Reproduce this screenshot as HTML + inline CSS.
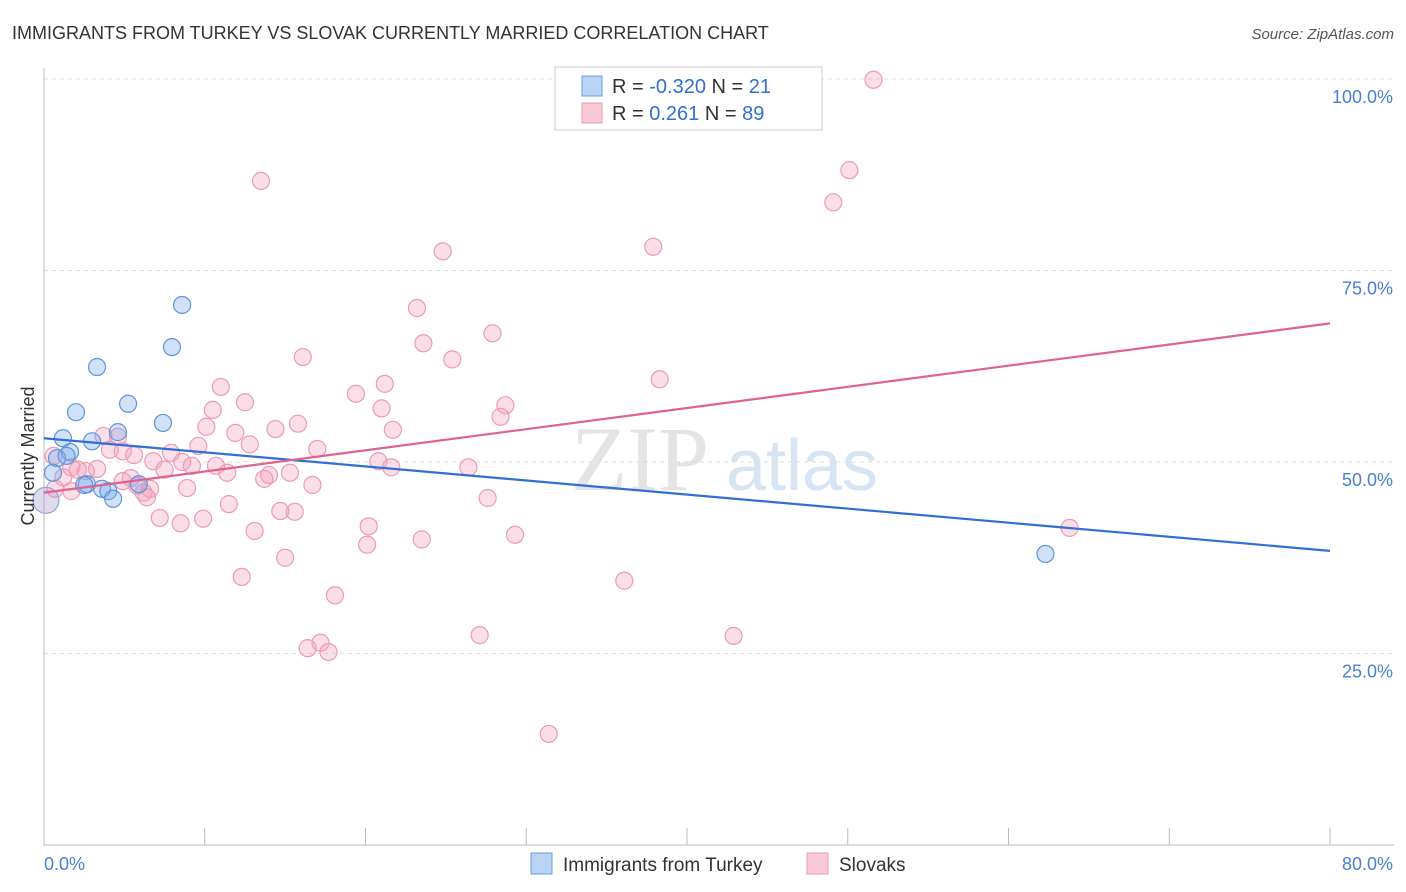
<!DOCTYPE html>
<html><head><meta charset="utf-8"><style>
body{margin:0;background:#fff;font-family:"Liberation Sans",sans-serif;}
svg{display:block}
</style></head><body>
<svg id="chart" width="1406" height="892">
<text x="12" y="39" font-size="18" fill="#333">IMMIGRANTS FROM TURKEY VS SLOVAK CURRENTLY MARRIED CORRELATION CHART</text>
<text x="1394" y="39" font-size="15" fill="#555" font-style="italic" text-anchor="end">Source: ZipAtlas.com</text>
<text x="640" y="490" font-size="92" fill="#e4e4e4" font-family="Liberation Serif" text-anchor="middle">ZIP</text>
<text x="802" y="490" font-size="72" fill="#d6e4f4" text-anchor="middle">atlas</text>
<g id="grid"></g><g id="axes"></g><g id="pts"></g><g id="lines"></g>
<text transform="translate(34,456) rotate(-90)" font-size="18" fill="#333" text-anchor="middle">Currently Married</text>
<g>
<rect x="555" y="67" width="267" height="63" fill="#fff" stroke="#ccc"/>
<rect x="582" y="76" width="20" height="20" fill="#b9d3f4" stroke="#6a9ee0"/>
<rect x="582" y="103" width="20" height="20" fill="#f9c9d8" stroke="#ec9ab5"/>
<text x="612" y="93" font-size="20" fill="#333">R = <tspan fill="#2f6fd6">-0.320</tspan>   N = <tspan fill="#2f6fd6"> 21</tspan></text>
<text x="612" y="120" font-size="20" fill="#333">R =   <tspan fill="#2f6fd6">0.261</tspan>   N = <tspan fill="#2f6fd6">89</tspan></text>
</g>
<g>
<rect x="531" y="853" width="21" height="21" fill="#b9d3f4" stroke="#6a9ee0"/>
<text x="563" y="871" font-size="19" fill="#333">Immigrants from Turkey</text>
<rect x="807" y="853" width="21" height="21" fill="#f9c9d8" stroke="#ec9ab5"/>
<text x="839" y="871" font-size="19" fill="#333">Slovaks</text>
</g>
</svg>
<script>
const blueX=[8.59,7.96,3.30,5.23,1.99,7.40,4.60,1.18,2.99,1.62,0.81,0.56,2.67,3.61,4.0,5.9,4.3,62.3,1.4,2.5];
const blueY=[70.5,65.0,62.4,57.6,56.5,55.1,53.9,53.1,52.7,51.3,50.5,48.6,47.1,46.5,46.2,47.1,45.2,38.0,50.8,47.0];
const pinkX=[51.6,50.1,49.1,13.5,24.8,37.9,23.2,27.9,23.6,25.4,16.1,38.3,11.0,21.2,19.4,12.5,10.5,21.0,28.7,28.4,15.8,14.4,10.1,21.7,11.9,4.6,3.7,12.8,9.6,17.0,7.9,4.1,4.9,5.6,0.6,6.8,8.6,20.8,9.2,10.7,26.4,21.6,1.7,3.3,7.5,2.1,2.6,11.4,15.3,14.0,1.2,5.4,13.7,4.9,16.7,5.8,6.6,8.9,0.7,1.7,6.2,6.4,27.6,11.5,14.7,15.6,7.2,9.9,8.5,20.2,63.8,13.1,29.3,23.5,20.1,15.0,12.3,36.1,18.1,27.1,42.9,17.2,16.4,17.7,31.4];
const pinkY=[99.9,88.1,83.9,86.7,77.5,78.1,70.1,66.8,65.5,63.4,63.7,60.8,59.8,60.2,58.9,57.8,56.8,57.0,57.4,55.9,55.0,54.3,54.6,54.2,53.8,53.3,53.4,52.3,52.1,51.7,51.2,51.6,51.4,50.9,50.8,50.1,50.0,50.1,49.5,49.5,49.3,49.3,49.3,49.1,49.0,49.0,48.8,48.6,48.6,48.3,48.0,47.9,47.8,47.5,47.0,46.9,46.5,46.6,46.5,46.2,46.0,45.4,45.3,44.5,43.6,43.5,42.7,42.6,42.0,41.6,41.4,41.0,40.5,39.9,39.2,37.5,35.0,34.5,32.6,27.4,27.3,26.4,25.7,25.2,14.5];
const blueTrend=[53.1,38.4];
const pinkTrend=[46.0,68.1];
const yTicks=[25,50,75,100];
const yTickLabels=["25.0%","50.0%","75.0%","100.0%"];
const xTicks=[0,10,20,30,40,50,60,70,80];
const NS="http://www.w3.org/2000/svg";
const sx=v=>44+v/80*1286, sy=v=>845-v/100*766;
function mk(tag,attrs,parent){const e=document.createElementNS(NS,tag);for(const k in attrs)e.setAttribute(k,attrs[k]);document.getElementById(parent).appendChild(e);return e;}
yTicks.forEach((t,i)=>{
 const l=mk('line',{x1:44,x2:1394,y1:sy(t),y2:sy(t),stroke:'#ddd','stroke-dasharray':'4,4'},'grid');
 
 
 const tx=mk('text',{x:1393,y:sy(t)+24,'font-size':18,fill:'#4a7fd4','text-anchor':'end'},'grid');
 tx.textContent=yTickLabels[i];
 
 
});
const ax=mk('line',{x1:44,x2:44,y1:68,y2:845,stroke:'#bbb'},'axes');


const bx=mk('line',{x1:44,x2:1394,y1:845,y2:845,stroke:'#bbb'},'axes');


xTicks.forEach(t=>{
 const l=mk('line',{x1:sx(t),x2:sx(t),y1:828,y2:845,stroke:'#bbb'},'axes');
 
 
});
const x0=mk('text',{x:44,y:870,'font-size':18,fill:'#4a7fd4'},'axes');x0.textContent='0.0%';


const x1=mk('text',{x:1393,y:870,'font-size':18,fill:'#4a7fd4','text-anchor':'end'},'axes');x1.textContent='80.0%';


pinkX.forEach((x,i)=>{
 const c=mk('circle',{cx:sx(x),cy:sy(pinkY[i]),r:8.5,fill:'rgba(244,160,189,0.35)',stroke:'#eb9bb6','stroke-width':1.2},'pts');
 
 
});
blueX.forEach((x,i)=>{
 const c=mk('circle',{cx:sx(x),cy:sy(blueY[i]),r:8.5,fill:'rgba(120,170,235,0.35)',stroke:'#5f95dc','stroke-width':1.2},'pts');
 
 
});
const big=mk('circle',{cx:sx(0.12),cy:sy(45.0),r:13,fill:'rgba(170,150,200,0.35)',stroke:'#8aa4dc','stroke-width':1.2},'pts');


const bl=mk('line',{x1:sx(0),y1:sy(blueTrend[0]),x2:sx(80),y2:sy(blueTrend[1]),stroke:'#2f6fd6','stroke-width':2.2},'lines');


const pl=mk('line',{x1:sx(0),y1:sy(pinkTrend[0]),x2:sx(80),y2:sy(pinkTrend[1]),stroke:'#e0628f','stroke-width':2.2},'lines');


</script>
</body></html>
